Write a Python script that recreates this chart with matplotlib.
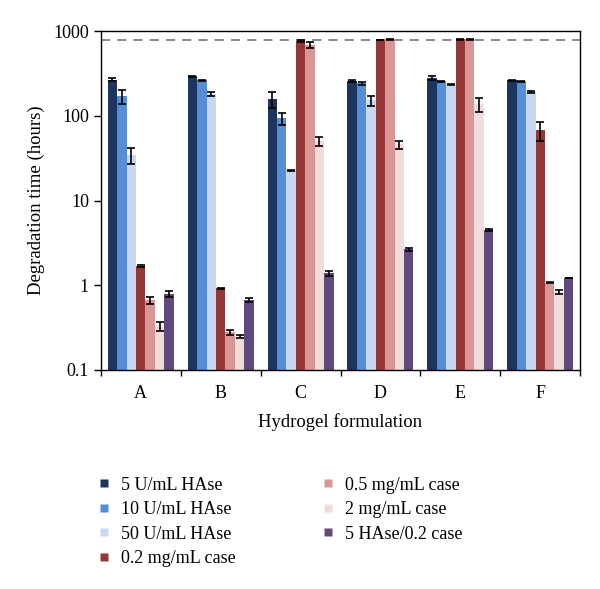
import matplotlib
matplotlib.use("Agg")
import matplotlib.pyplot as plt
import numpy as np
from matplotlib.lines import Line2D

plt.rcParams['font.family'] = ['Liberation Serif', 'DejaVu Serif']

categories = ["A", "B", "C", "D", "E", "F"]
series_names = ["5 U/mL HAse", "10 U/mL HAse", "50 U/mL HAse", "0.2 mg/mL case",
                "0.5 mg/mL case", "2 mg/mL case", "5 HAse/0.2 case"]
colors = ["#1c355e", "#558ed5", "#c6d9f1", "#953735", "#d99694", "#f2dcdb", "#604a7b"]

hase5 = [267, 292, 158, 260, 279, 262]
hase5_err = [12, 6, 33, 6, 15, 6]
hase10 = [170, 262, 94, 244, 255, 255]
hase10_err = [30, 6, 15, 10, 3, 3]
hase50 = [34.2, 180, 22.8, 152, 233, 191]
hase50_err = [7, 10, 0.3, 20, 3, 5]
case02 = [1.68, 0.916, 762, 792, 800, 67.5]
case02_err = [0.05, 0.005, 15, 5, 3, 17]
case05 = [0.667, 0.277, 696, 800, 800, 1.07]
case05_err = [0.06, 0.02, 60, 5, 3, 0.01]
case2 = [0.33, 0.247, 50.5, 46, 137, 0.836]
case2_err = [0.04, 0.012, 6, 5, 25, 0.04]
combo = [0.785, 0.667, 1.38, 2.67, 4.47, 1.22]
combo_err = [0.06, 0.03, 0.1, 0.1, 0.1, 0.01]

values = [hase5, hase10, hase50, case02, case05, case2, combo]
errors = [hase5_err, hase10_err, hase50_err, case02_err, case05_err, case2_err, combo_err]
limit_hours = 792

fig = plt.figure(figsize=(6.0, 5.89), dpi=100)
ax = fig.add_axes([0.168, 0.372, 0.799, 0.575])

x = np.arange(len(categories))
w = 0.118
for j, (vals, errs, c) in enumerate(zip(values, errors, colors)):
    ax.bar(x + (j - 3) * w, vals, width=w, color=c, edgecolor='none', zorder=2,
           yerr=errs, error_kw=dict(ecolor='black', elinewidth=1.2, capsize=3, capthick=1.2, zorder=3))

ax.axhline(limit_hours, color='#7f7f7f', linestyle=(0, (5, 4)), linewidth=1.3, zorder=1)

ax.set_yscale('log')
ax.set_ylim(0.1, 1000)
ax.set_xlim(-0.5, len(categories) - 0.5)
ax.set_yticks([0.1, 1, 10, 100, 1000])
ax.set_yticklabels(["0.1", "1", "10", "100", "1000"])
ax.yaxis.set_minor_locator(matplotlib.ticker.NullLocator())

ax.set_xticks(np.arange(-0.5, len(categories)), minor=False)
ax.set_xticklabels([""] * (len(categories) + 1))
ax.set_xticks(x, minor=True)
ax.set_xticklabels(categories, minor=True)
ax.tick_params(axis='x', which='minor', length=0, pad=11, labelsize=13)
ax.tick_params(axis='x', which='major', length=4, direction='out', width=1)
ax.tick_params(axis='y', which='major', length=5, direction='out', width=1, labelsize=13)

for s in ax.spines.values():
    s.set_linewidth(1.0)

ax.set_ylabel("Degradation time (hours)", fontsize=13.5, labelpad=6)
ax.set_xlabel("Hydrogel formulation", fontsize=13.5, labelpad=8)

handles = [Line2D([0], [0], marker='s', linestyle='none', markersize=6,
                  markerfacecolor=c, markeredgecolor='none') for c in colors]
fig.legend(handles, series_names, loc='upper left', bbox_to_anchor=(0.152, 0.197),
           ncol=2, frameon=False, fontsize=13, handlelength=1.0, handletextpad=0.45,
           columnspacing=4.6, labelspacing=0.42, borderaxespad=0, borderpad=0.2)

fig.savefig("out.png", dpi=100)
